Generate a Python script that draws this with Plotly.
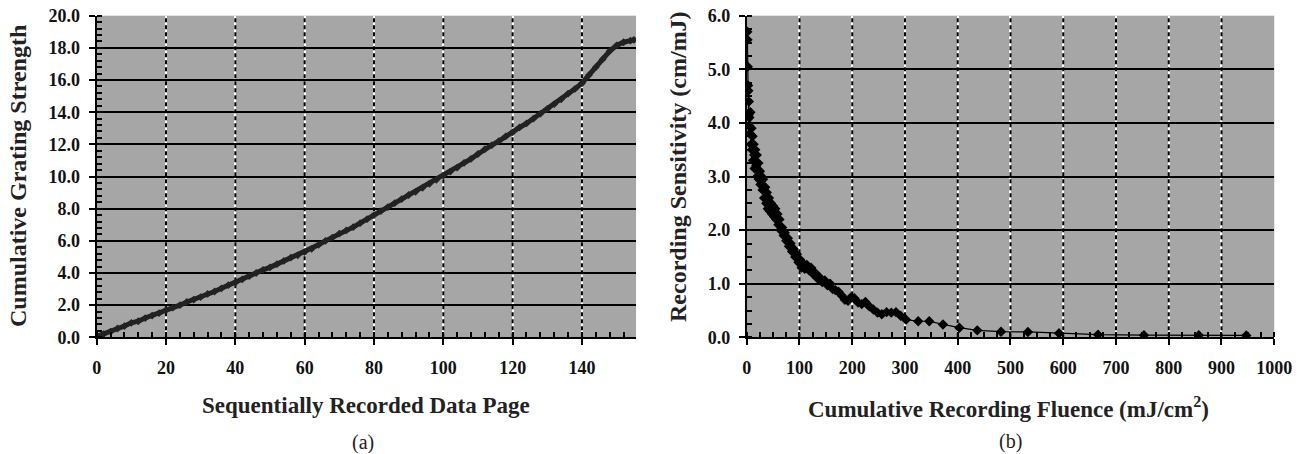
import plotly.graph_objects as go

# (a) cumulative grating strength vs. sequentially recorded data page
page = [0, 2, 4, 6, 8, 10, 12, 14, 16, 18, 20, 22, 24, 26, 28, 30, 32, 34, 36, 38,
        40, 42, 44, 46, 48, 50, 52, 54, 56, 58, 60, 62, 64, 66, 68, 70, 72, 74, 76, 78,
        80, 82, 84, 86, 88, 90, 92, 94, 96, 98, 100, 102, 104, 106, 108, 110, 112, 114,
        116, 118, 120, 122, 124, 126, 128, 130, 132, 134, 136, 138, 140, 142, 144, 146,
        148, 150, 152, 154, 155]
grating = [0.05, 0.2, 0.35, 0.55, 0.7, 0.9, 1.0, 1.2, 1.35, 1.5, 1.7, 1.85, 2.0, 2.2,
           2.35, 2.5, 2.7, 2.85, 3.05, 3.25, 3.4, 3.6, 3.8, 4.0, 4.2, 4.35, 4.55, 4.75,
           4.95, 5.1, 5.3, 5.5, 5.75, 6.0, 6.2, 6.45, 6.65, 6.85, 7.1, 7.35, 7.6, 7.85,
           8.1, 8.35, 8.6, 8.85, 9.05, 9.3, 9.55, 9.8, 10.05, 10.3, 10.55, 10.85, 11.1,
           11.4, 11.7, 11.95, 12.2, 12.5, 12.75, 13.05, 13.3, 13.6, 13.9, 14.2, 14.5,
           14.8, 15.15, 15.45, 15.8, 16.3, 16.8, 17.3, 17.8, 18.15, 18.35, 18.45, 18.5]

# (b) recording sensitivity vs. cumulative recording fluence
fluence = [1, 1.5, 2, 2.5, 3, 3.5, 4, 4.5, 5, 6, 7, 8, 9, 10, 11, 12, 13, 14, 15, 16,
           18, 19, 20, 22, 23, 25, 26, 28, 30, 31, 33, 35, 37, 38, 40, 42, 44, 46, 48,
           50, 52, 54, 56, 58, 60, 62, 64, 67, 70, 72, 75, 78, 80, 83, 86, 89, 92, 95,
           98, 101, 104, 107, 110, 114, 118, 122, 126, 130, 134, 138, 143, 148, 153,
           158, 163, 168, 174, 180, 186, 192, 198, 204, 211, 218, 225, 232, 240, 248,
           256, 265, 274, 283, 292, 302, 325, 346, 372, 403, 437, 482, 533, 592, 666,
           753, 857, 947]
sensitivity = [5.7, 5.55, 5.05, 4.7, 4.6, 4.15, 4.4, 3.95, 4.1, 3.8, 4.2, 3.6, 3.9, 3.5,
               3.75, 3.3, 3.6, 3.4, 3.15, 3.5, 3.2, 3.4, 3.0, 3.25, 2.95, 3.1, 2.85, 3.0,
               2.75, 2.95, 2.6, 2.8, 2.5, 2.7, 2.4, 2.6, 2.35, 2.5, 2.3, 2.45, 2.25, 2.4,
               2.2, 2.3, 2.1, 2.2, 2.0, 2.05, 1.9, 1.95, 1.8, 1.85, 1.7, 1.75, 1.6, 1.65,
               1.5, 1.55, 1.4, 1.45, 1.3, 1.38, 1.28, 1.35, 1.25, 1.3, 1.18, 1.2, 1.1,
               1.12, 1.03, 1.06, 0.97, 1.0, 0.9, 0.88, 0.85, 0.78, 0.7, 0.68, 0.75, 0.73,
               0.65, 0.62, 0.66, 0.58, 0.52, 0.46, 0.43, 0.47, 0.46, 0.47, 0.4, 0.33, 0.3,
               0.3, 0.24, 0.18, 0.13, 0.105, 0.1, 0.075, 0.05, 0.04, 0.04, 0.035]

# axis tick values and labels
a_xticks = [0, 20, 40, 60, 80, 100, 120, 140]
a_yticks = [0, 2, 4, 6, 8, 10, 12, 14, 16, 18, 20]
a_ylabels = [f"{v:.1f}" for v in a_yticks]
b_xticks = [0, 100, 200, 300, 400, 500, 600, 700, 800, 900, 1000]
b_yticks = [0, 1, 2, 3, 4, 5, 6]
b_ylabels = [f"{v:.1f}" for v in b_yticks]

SERIF = "Liberation Serif"
PLOT_BG = "#a6a6a6"
INK = "#111111"
A_XMAX, A_YMAX = 155.6, 20
B_XMAX, B_YMAX = 1000, 6

fig = go.Figure()


def dashed_grid(ticks, ymax, xa, ya):
    """Black dashes laid over the white vertical gridlines."""
    xs, ys = [], []
    for t in ticks:
        xs += [t, t, None]
        ys += [0, ymax, None]
    return go.Scatter(x=xs, y=ys, mode="lines", xaxis=xa, yaxis=ya,
                      line=dict(color="black", width=2, dash="4px,3px"),
                      hoverinfo="skip", showlegend=False)


fig.add_trace(dashed_grid(a_xticks[1:], A_YMAX, "x", "y"))
fig.add_trace(dashed_grid(b_xticks[1:-1], B_YMAX, "x2", "y2"))

fig.add_trace(go.Scatter(
    x=page, y=grating, mode="lines+markers", xaxis="x", yaxis="y",
    line=dict(color="#222222", width=5),
    marker=dict(symbol="diamond", size=6, color="#222222"),
    showlegend=False, hoverinfo="x+y"))
fig.add_trace(go.Scatter(
    x=fluence, y=sensitivity, mode="lines+markers", xaxis="x2", yaxis="y2",
    line=dict(color="#000000", width=1.2),
    marker=dict(symbol="diamond", size=8, color="#000000"),
    showlegend=False, hoverinfo="x+y"))

tickfont = dict(family=SERIF, size=18, color=INK, weight="bold")


def xaxis_style(domain, rng, ticks, minor_step, anchor):
    return dict(
        domain=domain, range=rng, anchor=anchor, tickmode="array", tickvals=ticks,
        ticktext=[str(t) for t in ticks], tickfont=tickfont, automargin=False,
        showgrid=True, gridcolor="white", gridwidth=2, zeroline=False,
        showline=True, linecolor="black", linewidth=2,
        ticks="outside", ticklen=6, tickwidth=2, tickcolor="black",
        ticklabelstandoff=7,
        minor=dict(dtick=minor_step, ticks="inside", ticklen=5, tickwidth=1.5,
                   tickcolor="black", showgrid=False, tick0=0),
        fixedrange=True)


def yaxis_style(domain, rng, ticks, labels, minor_step, anchor):
    return dict(
        domain=domain, range=rng, anchor=anchor, tickmode="array", tickvals=ticks,
        ticktext=labels, tickfont=tickfont, automargin=False,
        showgrid=True, gridcolor="black", gridwidth=2, zeroline=False,
        showline=True, linecolor="black", linewidth=2,
        ticks="outside", ticklen=6, tickwidth=2, tickcolor="black",
        ticklabelstandoff=5,
        minor=dict(dtick=minor_step, ticks="inside", ticklen=5, tickwidth=1.5,
                   tickcolor="black", showgrid=False, tick0=0),
        fixedrange=True)


ydom = [0.257, 0.9654]
fig.update_layout(
    width=1298, height=454, margin=dict(l=0, r=0, t=0, b=0, pad=0, autoexpand=False),
    paper_bgcolor="white", plot_bgcolor=PLOT_BG,
    xaxis=xaxis_style([0.0745, 0.49], [0, A_XMAX], a_xticks, 4, "y"),
    yaxis=yaxis_style(ydom, [0, A_YMAX], a_yticks, a_ylabels, 0.4, "x"),
    xaxis2=xaxis_style([0.5753, 0.9817], [0, B_XMAX], b_xticks, 25, "y2"),
    yaxis2=yaxis_style(ydom, [0, B_YMAX], b_yticks, b_ylabels, 0.25, "x2"),
)

xtitle_font = dict(family=SERIF, size=23, color="#222222", weight="bold")
ytitle_font = dict(family=SERIF, size=24, color="#222222", weight="bold")
caption_font = dict(family=SERIF, size=20, color="#222222")
fig.add_annotation(text="Sequentially Recorded Data Page", xref="paper", yref="paper",
                   x=(96 + 636) / 2 / 1298, y=1 - 405 / 454, showarrow=False,
                   font=xtitle_font, xanchor="center", yanchor="middle")
fig.add_annotation(text="Cumulative Grating Strength", xref="paper", yref="paper",
                   x=18 / 1298, y=1 - 176 / 454, showarrow=False, textangle=-90,
                   font=ytitle_font, xanchor="center", yanchor="middle")
fig.add_annotation(text="(a)", xref="paper", yref="paper",
                   x=363 / 1298, y=1 - 442 / 454, showarrow=False,
                   font=caption_font, xanchor="center", yanchor="middle")
fig.add_annotation(text="Cumulative Recording Fluence (mJ/cm<sup>2</sup>)", xref="paper",
                   yref="paper", x=1008 / 1298, y=1 - 407 / 454, showarrow=False,
                   font=xtitle_font, xanchor="center", yanchor="middle")
fig.add_annotation(text="Recording Sensitivity (cm/mJ)", xref="paper", yref="paper",
                   x=678 / 1298, y=1 - 167 / 454, showarrow=False, textangle=-90,
                   font=ytitle_font, xanchor="center", yanchor="middle")
fig.add_annotation(text="(b)", xref="paper", yref="paper",
                   x=1010 / 1298, y=1 - 441 / 454, showarrow=False,
                   font=caption_font, xanchor="center", yanchor="middle")

fig.write_html("out.html")
